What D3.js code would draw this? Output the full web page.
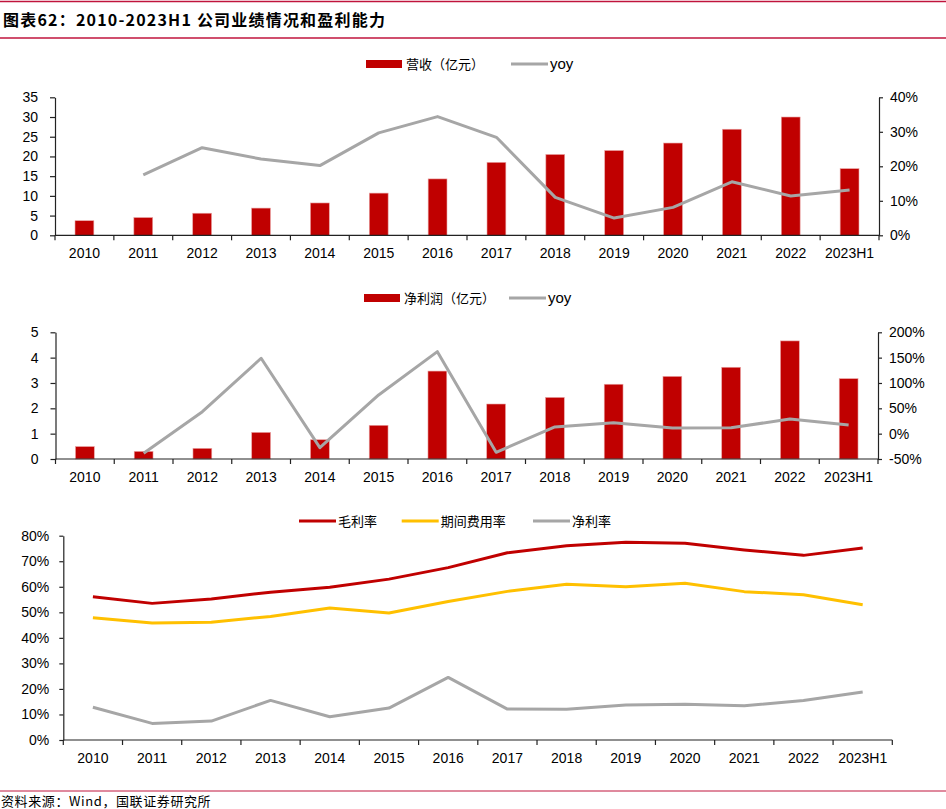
<!DOCTYPE html>
<html>
<head>
<meta charset="utf-8">
<script src="https://cdn.jsdelivr.net/npm/d3@7"></script>
<style>
  body { margin: 0; background: #fff; }
  svg { display: block; }
  text { font-family: "Liberation Sans", Arial, sans-serif; fill: #000; }
  .cjk { font-family: "Noto Sans CJK SC", sans-serif; }
</style>
</head>
<body>
<svg id="chart" width="946" height="809"></svg>
<script>
"use strict";

const years = ["2010","2011","2012","2013","2014","2015","2016","2017","2018","2019","2020","2021","2022","2023H1"];

// revenue (100m yuan) and yoy
const revenue = [3.7, 4.5, 5.6, 6.9, 8.2, 10.7, 14.3, 18.5, 20.5, 21.5, 23.4, 26.9, 30.0, 16.9];
const revenueYoy = [null, 17.5, 25.4, 22.1, 20.2, 29.7, 34.4, 28.4, 11.0, 5.0, 8.1, 15.5, 11.4, 13.1];

// net profit (100m yuan) and yoy
const profit = [0.49, 0.30, 0.42, 1.05, 0.76, 1.33, 3.47, 2.17, 2.43, 2.95, 3.26, 3.62, 4.66, 3.17];
const profitYoy = [null, -38.7, 43.4, 148.8, -27.6, 76.4, 161.8, -36.7, 13.2, 21.7, 11.2, 11.5, 29.0, 17.2];

// margins, %
const grossMargin = [56.1, 53.5, 55.2, 57.9, 59.8, 63.0, 67.5, 73.3, 76.1, 77.4, 77.0, 74.4, 72.3, 75.2];
const expenseRatio = [47.9, 45.8, 46.1, 48.4, 51.7, 49.7, 54.2, 58.2, 61.0, 60.0, 61.4, 58.1, 56.9, 53.0];
const netMargin = [12.8, 6.5, 7.4, 15.5, 9.1, 12.5, 24.5, 12.1, 12.0, 13.7, 14.0, 13.4, 15.5, 18.8];

const revTicks = [0, 5, 10, 15, 20, 25, 30, 35];
const revYoyTicks = [0, 10, 20, 30, 40];
const profitTicks = [0, 1, 2, 3, 4, 5];
const profitYoyTicks = [-50, 0, 50, 100, 150, 200];
const marginTicks = [0, 10, 20, 30, 40, 50, 60, 70, 80];

const RED = "#C00000", GRAY = "#A6A6A6", YELLOW = "#FFC000", RULE = "#C0143C", AXIS = "#222";

const svg = d3.select("#chart");

// header / footer rules
svg.append("line").attr("x1", 0).attr("x2", 946).attr("y1", 1.5).attr("y2", 1.5).attr("stroke", RULE).attr("stroke-width", 1.3);
svg.append("line").attr("x1", 0).attr("x2", 946).attr("y1", 38).attr("y2", 38).attr("stroke", RULE).attr("stroke-width", 1.3);
svg.append("text").attr("class", "cjk").attr("x", 3).attr("y", 26)
  .attr("font-size", 16).attr("font-weight", "bold").attr("letter-spacing", 1.2)
  .text("图表62：2010-2023H1 公司业绩情况和盈利能力");
svg.append("line").attr("x1", 0).attr("x2", 946).attr("y1", 791).attr("y2", 791).attr("stroke", RULE).attr("stroke-width", 1);
svg.append("text").attr("class", "cjk").attr("x", 1).attr("y", 806)
  .attr("font-size", 13).attr("letter-spacing", 0.6).attr("fill", "#222").text("资料来源：Wind，国联证券研究所");

// category axis with ticks at band boundaries
function categoryAxis(g, x, y0) {
  const [a, b] = x.range();
  g.append("line").attr("x1", a).attr("x2", b).attr("y1", y0).attr("y2", y0).attr("stroke", AXIS).attr("stroke-width", 1.2);
  const bounds = years.map(d => x(d)).concat([b]);
  g.selectAll(".bt").data(bounds).enter().append("line")
    .attr("x1", d => d).attr("x2", d => d).attr("y1", y0).attr("y2", y0 + 5)
    .attr("stroke", AXIS).attr("stroke-width", 1.2);
  g.selectAll(".xl").data(years).enter().append("text")
    .attr("x", d => x(d) + x.bandwidth() / 2).attr("y", y0 + 23)
    .attr("text-anchor", "middle").attr("font-size", 14).text(d => d);
}

function valueAxis(g, axis, xpos) {
  const ag = g.append("g").attr("transform", "translate(" + xpos + ",0)").call(axis);
  ag.select(".domain").attr("stroke", AXIS).attr("stroke-width", 1.2);
  ag.selectAll(".tick line").attr("stroke", AXIS).attr("stroke-width", 1.2);
  ag.selectAll(".tick text").attr("font-size", 14).attr("fill", "#000")
    .attr("font-family", "Liberation Sans, Arial, sans-serif");
  return ag;
}

function legendBox(g, x, y, label) {
  g.append("rect").attr("x", x).attr("y", y - 4).attr("width", 36).attr("height", 8).attr("fill", RED);
  g.append("text").attr("class", "cjk").attr("x", x + 40).attr("y", y + 5).attr("font-size", 13).attr("fill", "#222").text(label);
}

function legendLine(g, x, y, color, label, cjk) {
  g.append("line").attr("x1", x).attr("x2", x + 37).attr("y1", y).attr("y2", y).attr("stroke", color).attr("stroke-width", 3);
  const t = g.append("text").attr("x", x + 39).attr("y", y + 5).text(label);
  if (cjk) t.attr("class", "cjk").attr("font-size", 13).attr("fill", "#222");
  else t.attr("font-size", 15);
}

// bar + yoy panel
function barPanel(opts) {
  const g = svg.append("g");
  const x = d3.scaleBand().domain(years).range([opts.left, opts.right]);
  const y = d3.scaleLinear().domain(d3.extent(opts.ticks)).range([opts.bottom, opts.top]);
  const y2 = d3.scaleLinear().domain(d3.extent(opts.ticks2)).range([opts.bottom, opts.top]);

  g.selectAll(".bar").data(opts.bars).enter().append("rect")
    .attr("x", (d, i) => x(years[i]) + x.bandwidth() * 0.34)
    .attr("width", x.bandwidth() * 0.32)
    .attr("y", d => y(d)).attr("height", d => y(0) - y(d))
    .attr("fill", RED).attr("stroke", "#E9A3A3").attr("stroke-width", 0.6);

  const line = d3.line()
    .defined(d => d != null)
    .x((d, i) => x(years[i]) + x.bandwidth() / 2)
    .y(d => y2(d));
  g.append("path").datum(opts.yoy).attr("d", line)
    .attr("fill", "none").attr("stroke", GRAY).attr("stroke-width", 3).attr("stroke-linejoin", "round");

  valueAxis(g, d3.axisLeft(y).tickValues(opts.ticks).tickSize(5).tickSizeOuter(0).tickPadding(12)
    .tickFormat(d3.format("d")), opts.left);
  valueAxis(g, d3.axisRight(y2).tickValues(opts.ticks2).tickSize(4).tickSizeOuter(0).tickPadding(7)
    .tickFormat(d => d + "%"), opts.right);
  categoryAxis(g, x, opts.bottom);

  legendBox(g, opts.legendX, opts.legendY, opts.barLabel);
  legendLine(g, opts.legendX + 145, opts.legendY, GRAY, "yoy", false);
}

barPanel({
  left: 55, right: 879, top: 97.3, bottom: 235.3,
  bars: revenue, yoy: revenueYoy, ticks: revTicks, ticks2: revYoyTicks,
  barLabel: "营收（亿元）", legendX: 366, legendY: 64
});

barPanel({
  left: 55.5, right: 878, top: 332.3, bottom: 459,
  bars: profit, yoy: profitYoy, ticks: profitTicks, ticks2: profitYoyTicks,
  barLabel: "净利润（亿元）", legendX: 364, legendY: 298
});

// margins panel
(function() {
  const g = svg.append("g");
  const left = 63.3, right = 892.3, top = 535.7, bottom = 740;
  const x = d3.scaleBand().domain(years).range([left, right]);
  const y = d3.scaleLinear().domain(d3.extent(marginTicks)).range([bottom, top]);
  const line = d3.line().x((d, i) => x(years[i]) + x.bandwidth() / 2).y(d => y(d));

  [[netMargin, GRAY], [expenseRatio, YELLOW], [grossMargin, RED]].forEach(function(s) {
    g.append("path").datum(s[0]).attr("d", line)
      .attr("fill", "none").attr("stroke", s[1]).attr("stroke-width", 3).attr("stroke-linejoin", "round");
  });

  valueAxis(g, d3.axisLeft(y).tickValues(marginTicks).tickSize(4).tickSizeOuter(0).tickPadding(10)
    .tickFormat(d => d + "%"), left);
  categoryAxis(g, x, bottom);

  legendLine(g, 299, 521, RED, "毛利率", true);
  legendLine(g, 401.7, 521, YELLOW, "期间费用率", true);
  legendLine(g, 533, 521, GRAY, "净利率", true);
})();
</script>
</body>
</html>
